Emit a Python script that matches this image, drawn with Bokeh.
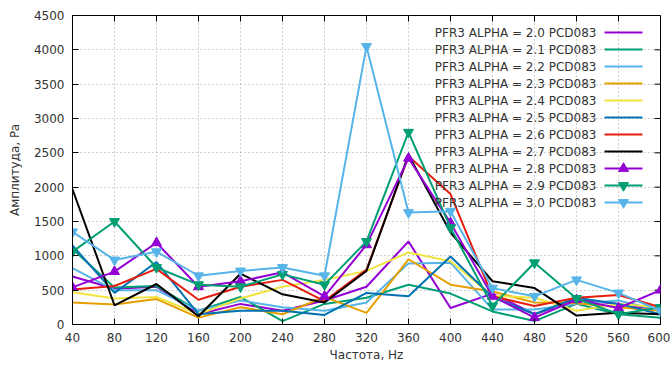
from bokeh.plotting import figure
from bokeh.models import Range1d, FixedTicker, Label
from bokeh.embed import file_html
from bokeh.resources import INLINE

# ---------------- data ----------------
freq = [40, 80, 120, 160, 200, 240, 280, 320, 360, 400, 440, 480, 520, 560, 600]

alphas = ["2.0", "2.1", "2.2", "2.3", "2.4", "2.5", "2.6", "2.7", "2.8", "2.9", "3.0"]

a20 = [700, 520, 550, 150, 300, 200, 350, 550, 1210, 240, 450, 150, 360, 300, 200]
a21 = [1100, 540, 560, 200, 400, 50, 300, 390, 580, 450, 190, 50, 300, 150, 100]
a22 = [820, 500, 500, 200, 350, 250, 200, 320, 890, 900, 220, 220, 300, 350, 200]
a23 = [320, 290, 370, 100, 250, 150, 400, 170, 950, 580, 480, 320, 310, 250, 200]
a24 = [470, 380, 400, 150, 380, 550, 650, 780, 1050, 920, 420, 390, 200, 300, 250]
a25 = [1150, 460, 910, 150, 200, 200, 140, 460, 410, 990, 400, 150, 390, 300, 150]
a26 = [510, 560, 810, 360, 550, 650, 340, 800, 2450, 1900, 410, 270, 390, 430, 250]
a27 = [1970, 280, 590, 120, 740, 440, 320, 780, 2470, 1340, 630, 530, 130, 170, 150]
a28 = [540, 770, 1190, 550, 630, 760, 410, 1160, 2420, 1480, 410, 100, 360, 240, 500]
a29 = [1060, 1500, 830, 580, 550, 730, 580, 1210, 2800, 1410, 270, 900, 380, 150, 250]
a30 = [1350, 940, 1060, 710, 780, 830, 710, 4050, 1630, 1650, 530, 410, 650, 460, 200]

series = [a20, a21, a22, a23, a24, a25, a26, a27, a28, a29, a30]

colors = ["#9400D3", "#009E73", "#56B4E9", "#E69F00", "#F0E442", "#0072B2",
          "#E51E10", "#000000", "#9400D3", "#009E73", "#56B4E9"]
markers = [None, None, None, None, None, None, None, None,
           "triangle", "inverted_triangle", "inverted_triangle"]

x_ticks = freq
y_ticks = [0, 500, 1000, 1500, 2000, 2500, 3000, 3500, 4000, 4500]

# ---------------- layout ----------------
W, H = 670, 371
BL, BT = 72, 15
FW, FH = 588, 309
BR = W - BL - FW
BB = H - BT - FH
X0, X1 = 40, 600
Y0, Y1 = 0, 4500

FONT = "DejaVu Sans"
TXT = "#333333"
TICK = 6

p = figure(width=W, height=H, x_range=Range1d(X0, X1), y_range=Range1d(Y0, Y1),
           output_backend="svg", toolbar_location=None, title=None,
           min_border_left=BL, min_border_right=BR,
           min_border_top=BT, min_border_bottom=BB)
p.background_fill_color = "white"
p.border_fill_color = "white"
p.outline_line_color = "black"
p.outline_line_width = 1

for ax in (p.xaxis[0], p.yaxis[0]):
    ax.axis_line_color = "black"
    ax.major_tick_in = TICK
    ax.major_tick_out = 0
    ax.minor_tick_line_color = None
    ax.major_label_text_font = FONT
    ax.major_label_text_font_size = "12px"
    ax.major_label_text_color = TXT
    ax.axis_label_text_font = FONT
    ax.axis_label_text_font_size = "12px"
    ax.axis_label_text_font_style = "normal"
    ax.axis_label_text_color = TXT

p.xaxis[0].ticker = FixedTicker(ticks=x_ticks)
p.yaxis[0].ticker = FixedTicker(ticks=y_ticks)
p.xaxis[0].axis_label = "Частота, Hz"
p.yaxis[0].axis_label = "Амплитуда, Pa"
p.xaxis[0].major_label_standoff = 8
p.xaxis[0].axis_label_standoff = 3
p.yaxis[0].major_label_standoff = 8
p.yaxis[0].axis_label_standoff = 9

for g in (p.xgrid[0], p.ygrid[0]):
    g.grid_line_color = "#a0a0a0"
    g.grid_line_dash = "1 3"
    g.grid_line_width = 1
p.xgrid[0].ticker = FixedTicker(ticks=x_ticks)
p.ygrid[0].ticker = FixedTicker(ticks=y_ticks)

def px_to_x(px):  # px measured from frame left
    return X0 + px / FW * (X1 - X0)

def py_to_y(py):  # py measured from frame top
    return Y1 - py / FH * (Y1 - Y0)

# mirrored ticks on top and right border (gnuplot style)
dy = TICK / FH * (Y1 - Y0)
dx = TICK / FW * (X1 - X0)
p.segment(x0=x_ticks, y0=[Y1] * len(x_ticks), x1=x_ticks, y1=[Y1 - dy] * len(x_ticks),
          line_color="black", line_width=1)
p.segment(x0=[X1] * len(y_ticks), y0=y_ticks, x1=[X1 - dx] * len(y_ticks), y1=y_ticks,
          line_color="black", line_width=1)

# data lines
for vals, col, mk in zip(series, colors, markers):
    p.line(freq, vals, line_color=col, line_width=2)
    if mk is not None:
        p.scatter(freq, vals, marker=mk, size=10, fill_color=col, line_color=col)

# legend (gnuplot style: text right-aligned, sample on the right)
LEG_TEXT_RIGHT = 524
LEG_S0, LEG_S1 = 532, 570
LEG_TOP, LEG_STEP = 17, 17

for i, (a, col, mk) in enumerate(zip(alphas, colors, markers)):
    yy = py_to_y(LEG_TOP + LEG_STEP * i)
    p.add_layout(Label(x=px_to_x(LEG_TEXT_RIGHT), y=yy, text=f"PFR3 ALPHA = {a} PCD083",
                       text_align="right", text_baseline="middle",
                       text_font=FONT, text_font_size="12px", text_color=TXT))
    p.segment(x0=[px_to_x(LEG_S0)], y0=[yy], x1=[px_to_x(LEG_S1)], y1=[yy],
              line_color=col, line_width=2)
    if mk is not None:
        p.scatter([px_to_x((LEG_S0 + LEG_S1) / 2)], [yy], marker=mk, size=10,
                  fill_color=col, line_color=col)

open("out.html", "w").write(file_html(p, INLINE))
